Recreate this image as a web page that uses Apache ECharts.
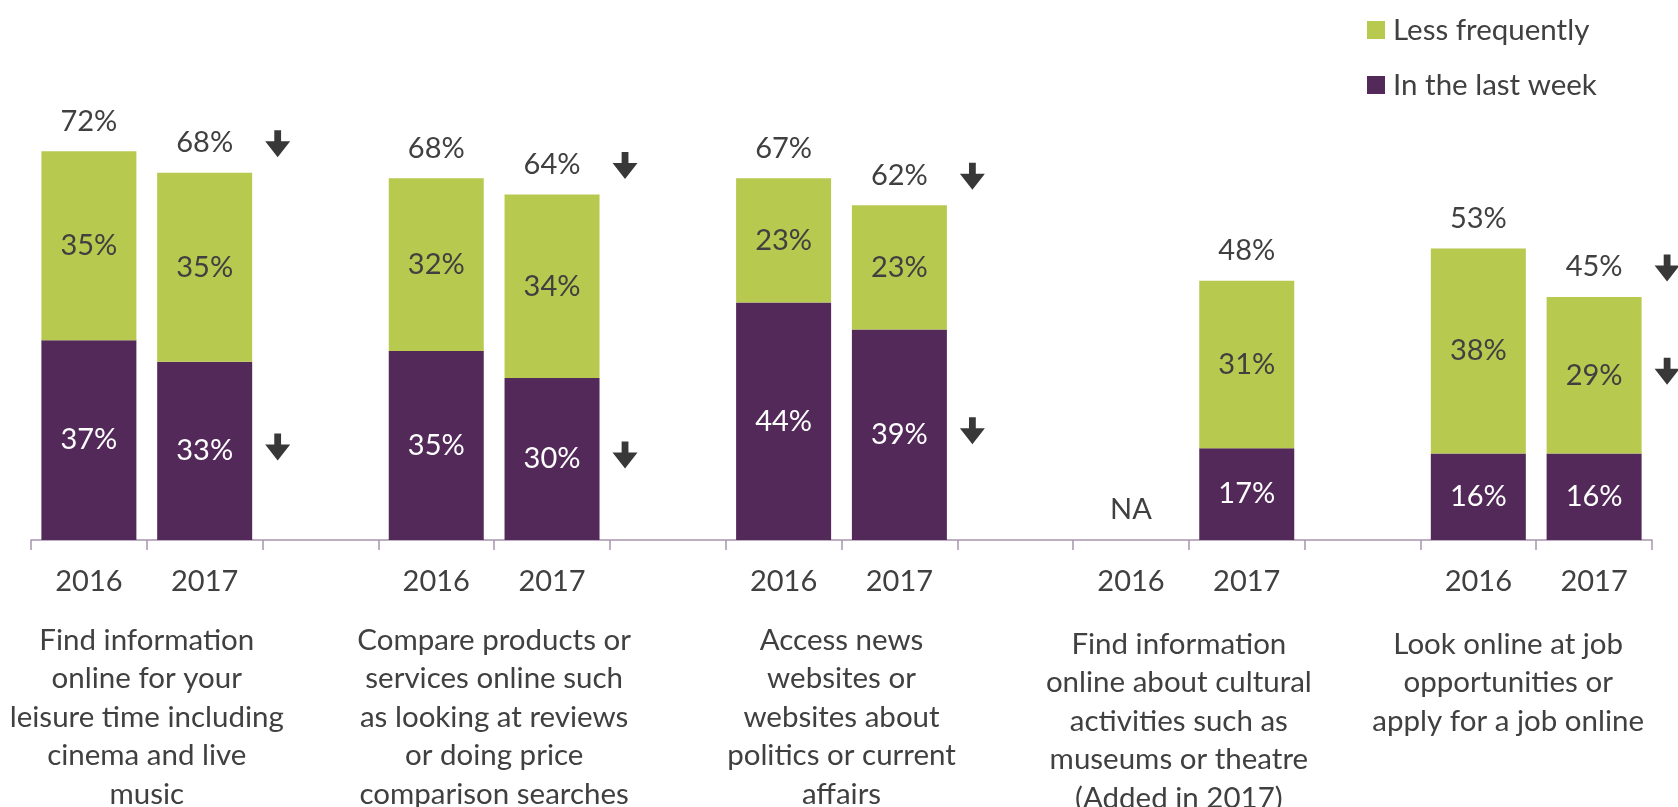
<!DOCTYPE html>
<html><head><meta charset="utf-8">
<script src="https://cdn.jsdelivr.net/npm/echarts@6/dist/echarts.min.js"></script>
<style>html,body{margin:0;padding:0;background:#fff}#c{width:1678px;height:807px}</style>
</head><body><div id="c"></div>
<script>
// ---- data ----
const years = ['2016','2017','','2016','2017','','2016','2017','','2016','2017','','2016','2017'];
const groupLabels = ['',
  'Find information\nonline for your\nleisure time including\ncinema and live\nmusic', '', '',
  'Compare products or\nservices online such\nas looking at reviews\nor doing price\ncomparison searches', '', '',
  'Access news\nwebsites or\nwebsites about\npolitics or current\naffairs', '', '',
  'Find information\nonline about cultural\nactivities such as\nmuseums or theatre\n(Added in 2017)', '', '',
  'Look online at job\nopportunities or\napply for a job online', ''];
const lastWeek = [37,33,null,35,30,null,44,39,null,null,17,null,16,16];
const lessFreq = [35,35,null,32,34,null,23,23,null,null,31,null,38,29];
const totals   = [72,68,null,68,64,null,67,62,null,'NA',48,null,53,45];
// significant decrease markers (1 = down arrow)
const downTotal = [0,1,0,0,1,0,0,1,0,0,0,0,0,1];
const downWeek  = [0,1,0,0,1,0,0,1,0,0,0,0,0,0];
const downLess  = [0,0,0,0,0,0,0,0,0,0,0,0,0,1];

// ---- layout / style ----
const FONT = 'Lato';
const TXT = '#404040';
const GREEN = '#b8c94f';
const PURPLE = '#53295a';
const NUM = 29;
const CAT = 29.5;
// small nudges of group-label text boxes (px: [down, left])
const labelNudge = {10: [4, 10], 13: [4, 28]};

const groupAxisData = groupLabels.map((v, i) => {
  const n = labelNudge[i];
  return n ? {value: v, textStyle: {padding: [n[0], 2 * n[1], 0, 0]}} : v;
});

const totalData = [];
totals.forEach((t, i) => {
  if (t === null) return;
  const top = (lastWeek[i] || 0) + (lessFreq[i] || 0);
  totalData.push([i, top, typeof t === 'number' ? t + '%' : t]);
});
const arrowData = [];
years.forEach((y, i) => {
  const w = lastWeek[i] || 0, l = lessFreq[i] || 0;
  if (downTotal[i]) arrowData.push([i, w + l, -29]);
  if (downWeek[i]) arrowData.push([i, w / 2, -4]);
  if (downLess[i]) arrowData.push([i, w + l / 2, -4]);
});

const chart = echarts.init(document.getElementById('c'), null, {renderer: 'canvas'});
const segLabel = (color) => ({
  show: true, position: 'inside', color: color, fontFamily: FONT, fontSize: NUM,
  formatter: p => (p.value == null ? '' : p.value + '%')
});
chart.setOption({
  animation: false,
  backgroundColor: '#fff',
  textStyle: {fontFamily: FONT},
  legend: {
    data: ['Less frequently', 'In the last week'],
    orient: 'vertical', left: 1362, top: 10,
    itemWidth: 18, itemHeight: 18, itemGap: 25, icon: 'rect',
    textStyle: {fontFamily: FONT, fontSize: CAT, lineHeight: 30, color: TXT, padding: [0, 0, 0, 3]},
    selectedMode: false
  },
  grid: {left: 31, right: 26, top: 0, bottom: 267, containLabel: false, outerBoundsMode: 'none'},
  xAxis: [{
    type: 'category', data: years, gridIndex: 0,
    axisLine: {lineStyle: {color: '#a994ad', width: 1.5}},
    axisTick: {show: true, length: 10, interval: 0, lineStyle: {color: '#a994ad', width: 1.5}},
    axisLabel: {interval: 0, margin: 27, fontFamily: FONT, fontSize: NUM, lineHeight: 29, color: TXT}
  }, {
    type: 'category', data: groupAxisData, gridIndex: 0, position: 'bottom', boundaryGap: false,
    axisLine: {show: false}, axisTick: {show: false},
    axisLabel: {interval: 0, margin: 81, fontFamily: FONT, fontSize: CAT, lineHeight: 38.5, color: TXT, align: 'center'}
  }],
  yAxis: {type: 'value', min: 0, max: 100, show: false},
  series: [{
    name: 'In the last week', type: 'bar', stack: 'a', barWidth: 95, xAxisIndex: 0,
    data: lastWeek, itemStyle: {color: PURPLE}, label: segLabel('#ffffff')
  }, {
    name: 'Less frequently', type: 'bar', stack: 'a', barWidth: 95, xAxisIndex: 0,
    data: lessFreq, itemStyle: {color: GREEN}, label: segLabel(TXT)
  }, {
    name: 'totals', type: 'custom', xAxisIndex: 0, clip: false, silent: true,
    encode: {x: 0, y: 1}, data: totalData,
    renderItem: (params, api) => {
      const p = api.coord([api.value(0), api.value(1)]);
      return {type: 'text', style: {
        text: totalData[params.dataIndex][2], x: p[0], y: p[1] - 30,
        align: 'center', verticalAlign: 'middle',
        font: NUM + 'px ' + FONT, fill: TXT}};
    }
  }, {
    name: 'arrows', type: 'custom', xAxisIndex: 0, clip: false, silent: true,
    encode: {x: 0, y: 1}, data: arrowData,
    renderItem: (params, api) => {
      const p = api.coord([api.value(0), api.value(1)]);
      const cx = p[0] + 73, cy = p[1] + api.value(2);
      const sw = 3.4, hw = 12.5, top = cy - 13.5, hs = cy - 2.5, tip = cy + 13.5;
      return {type: 'polygon', shape: {points: [
        [cx - sw, top], [cx + sw, top], [cx + sw, hs], [cx + hw, hs],
        [cx, tip], [cx - hw, hs], [cx - sw, hs]]},
        style: {fill: '#383838'}};
    }
  }]
});
</script></body></html>
